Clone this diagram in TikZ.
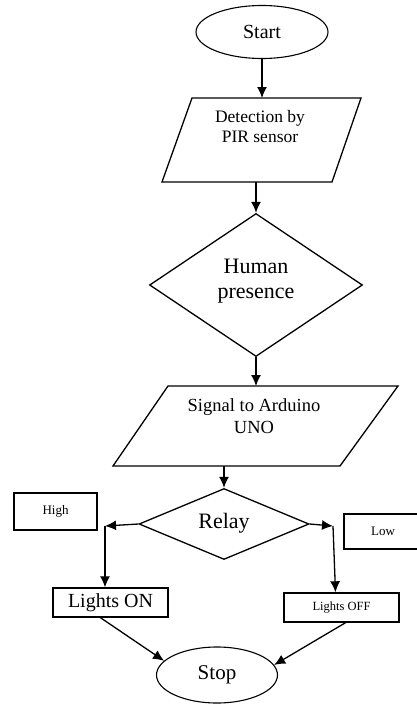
\documentclass[tikz,border=0pt]{standalone}
\usepackage{fontspec}
\setmainfont{Liberation Serif}
\usetikzlibrary{positioning,shapes.geometric,arrows.meta}

\tikzset{
  term/.style={draw, ellipse, line width=1.1pt, inner sep=0pt},
  iobox/.style={draw, line width=1.3pt, line join=miter},
  choice/.style={draw, diamond, line width=1.3pt, inner sep=0pt},
  actbox/.style={draw, rectangle, line width=1.4pt, inner sep=0pt},
  flow/.style={line width=1.3pt, -{Latex[length=11pt,width=10pt]}}
}

\begin{document}
\begin{tikzpicture}[x=1pt, y=-1pt]

\useasboundingbox (0,0) rectangle (417,704);
\clip (0,0) rectangle (417,704);

\node[term, minimum width=132pt, minimum height=53pt, font=\fontsize{20}{22}\selectfont] (start) at (262,32) {Start};

% parallelogram corners
\coordinate (DT1) at (192,98);
\coordinate (DT2) at (361,98);
\coordinate (DB2) at (332,182);
\coordinate (DB1) at (162,182);
\draw[iobox] (DT1) -- (DT2) -- (DB2) -- (DB1) -- cycle;
\node[align=center, font=\fontsize{17.5}{20}\selectfont] (detect) at (260,127) {Detection by\\PIR sensor};

\node[choice, minimum width=213pt, minimum height=143pt] (human) at (256,285) {};
\node[align=center, font=\fontsize{22}{25}\selectfont] (humantxt) at (256,281) {Human\\presence};

\coordinate (ST1) at (168,386);
\coordinate (ST2) at (398,386);
\coordinate (SB2) at (340,466);
\coordinate (SB1) at (113,466);
\draw[iobox] (ST1) -- (ST2) -- (SB2) -- (SB1) -- cycle;
\node[align=center, font=\fontsize{18.5}{22}\selectfont] (signal) at (254,416) {Signal to Arduino\\UNO};

\node[choice, minimum width=170pt, minimum height=71pt] (relay) at (224,524) {};
\node[font=\fontsize{22}{25}\selectfont] (relaytxt) at (224,523) {Relay};

\node[actbox, minimum width=83pt, minimum height=37pt, font=\fontsize{13}{15}\selectfont] (high) at (55.5,511.5) {High};
\node[actbox, minimum width=78pt, minimum height=35pt, font=\fontsize{13}{15}\selectfont] (low) at (383,531.5) {Low};

\node[actbox, minimum width=115pt, minimum height=29pt, font=\fontsize{20}{22}\selectfont] (lon) at (110.5,602.5) {Lights ON};
\node[actbox, minimum width=115pt, minimum height=29pt, font=\fontsize{12.5}{14}\selectfont] (loff) at (341.5,607.5) {Lights OFF};

\node[term, minimum width=121pt, minimum height=56pt, font=\fontsize{21}{23}\selectfont] (stop) at (217,675) {Stop};

\coordinate (hl) at (105,526);
\coordinate (hr) at (333,526);

\draw[flow] (start.south) -- (start.south |- DT1);
\draw[flow] (human.north |- DB1) -- (human.north);
\draw[flow] (human.south) -- (human.south |- ST1);
\draw[flow] (relay.north |- SB1) -- (relay.north);
\draw[flow] (relay.west) -- (hl);
\draw[flow] (hl) -- (hl |- lon.north);
\draw[flow] (relay.east) -- (hr);
\draw[flow] (hr) -- ([xshift=-6pt]loff.north);
\draw[flow] ([xshift=-10pt]lon.south) -- (stop.165);
\draw[flow] ([xshift=4pt]loff.south) -- (stop.10);

\end{tikzpicture}
\end{document}
